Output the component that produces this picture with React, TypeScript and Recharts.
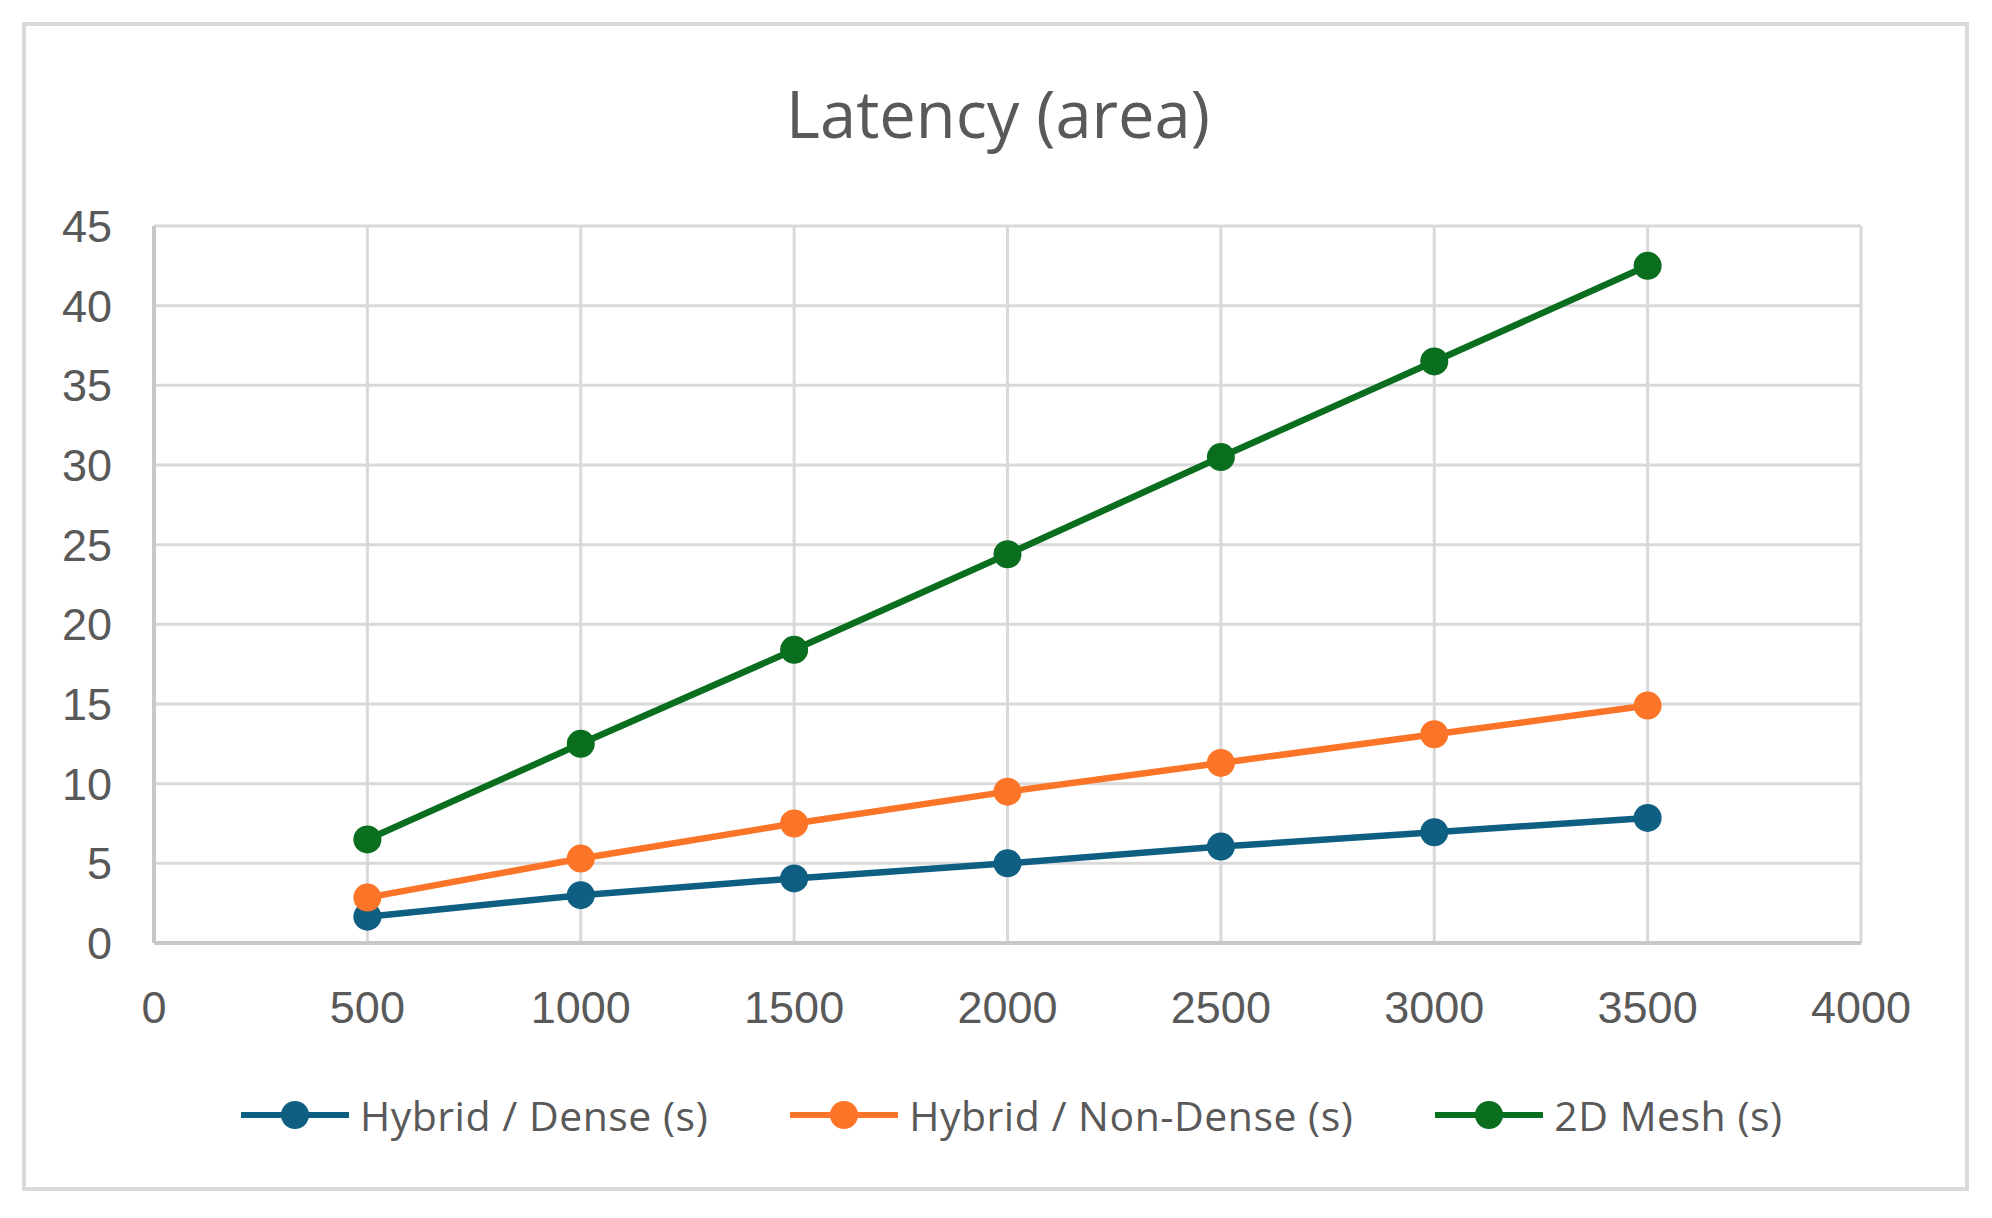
import { LineChart, Line, XAxis, YAxis, CartesianGrid, Legend } from "recharts"

const sizes = [500, 1000, 1500, 2000, 2500, 3000, 3500]
const hybridDense = [1.65, 3.0, 4.05, 5.0, 6.05, 6.95, 7.85]
const hybridNonDense = [2.85, 5.3, 7.5, 9.5, 11.3, 13.1, 14.9]
const mesh2d = [6.5, 12.5, 18.4, 24.4, 30.5, 36.5, 42.5]

const xTicks = [0, 500, 1000, 1500, 2000, 2500, 3000, 3500, 4000]
const yTicks = [0, 5, 10, 15, 20, 25, 30, 35, 40, 45]

const series = [
  { key: "dense", name: "Hybrid / Dense (s)", color: "#0f5f82" },
  { key: "nonDense", name: "Hybrid / Non-Dense (s)", color: "#fb7428" },
  { key: "mesh", name: "2D Mesh (s)", color: "#0a6e1f" },
]

const data = sizes.map((x, i) => ({
  x,
  dense: hybridDense[i],
  nonDense: hybridNonDense[i],
  mesh: mesh2d[i],
}))

const tickStyle = { fill: "#595959", fontSize: 45, fontFamily: "'Liberation Sans', Arial, sans-serif" }

function LegendContent() {
  return (
    <div style={{ display: "flex", alignItems: "center", paddingLeft: 241, height: 60 }}>
      {series.map((s) => (
        <div key={s.key} style={{ display: "flex", alignItems: "center", marginRight: 82 }}>
          <svg width={108} height={30}>
            <line x1={0} y1={15} x2={108} y2={15} stroke={s.color} strokeWidth={6} />
            <circle cx={54} cy={15} r={14} fill={s.color} />
          </svg>
          <span
            style={{
              marginLeft: 11,
              fontFamily: "'Open Sans', sans-serif",
              fontSize: 41,
              letterSpacing: 0.5,
              color: "#595959",
              whiteSpace: "nowrap",
            }}
          >
            {s.name}
          </span>
        </div>
      ))}
    </div>
  )
}

export default function App() {
  return (
    <div style={{ position: "absolute", left: 0, top: 0, width: 1992, height: 1218, background: "#fff" }}>
      <div
        style={{
          position: "absolute",
          left: 22,
          top: 22,
          width: 1947,
          height: 1169,
          border: "4px solid #dadada",
          boxSizing: "border-box",
        }}
      />
      <div
        style={{
          position: "absolute",
          left: 0,
          width: 1996,
          top: 68,
          textAlign: "center",
          fontFamily: "'Open Sans', sans-serif",
          fontSize: 65,
          color: "#595959",
          lineHeight: "90px",
        }}
      >
        Latency (area)
      </div>
      <div style={{ position: "absolute", left: 0, top: 0 }}>
        <LineChart width={1992} height={1218} data={data} margin={{ top: 226, right: 131, bottom: 0, left: 0 }}>
          <CartesianGrid stroke="#d9d9d9" strokeWidth={3} horizontalValues={yTicks} verticalValues={xTicks} />
          <XAxis
            dataKey="x"
            type="number"
            domain={[0, 4000]}
            ticks={xTicks}
            interval={0}
            height={275}
            tickLine={false}
            tickSize={0}
            tickMargin={48}
            axisLine={{ stroke: "#c8c8c8", strokeWidth: 4 }}
            tick={tickStyle}
          />
          <YAxis
            type="number"
            domain={[0, 45]}
            ticks={yTicks}
            interval={0}
            width={154}
            tickLine={false}
            tickSize={0}
            tickMargin={42}
            axisLine={{ stroke: "#c8c8c8", strokeWidth: 4 }}
            tick={tickStyle}
          />
          <Legend
            layout="horizontal"
            verticalAlign="middle"
            align="center"
            wrapperStyle={{ top: 1085, left: 0, width: 1992 }}
            content={() => <LegendContent />}
          />
          {series.map((s) => (
            <Line
              key={s.key}
              dataKey={s.key}
              name={s.name}
              stroke={s.color}
              strokeWidth={6.5}
              dot={{ r: 14, fill: s.color, stroke: s.color, strokeWidth: 0 }}
              activeDot={false}
              isAnimationActive={false}
            />
          ))}
        </LineChart>
      </div>
    </div>
  )
}
